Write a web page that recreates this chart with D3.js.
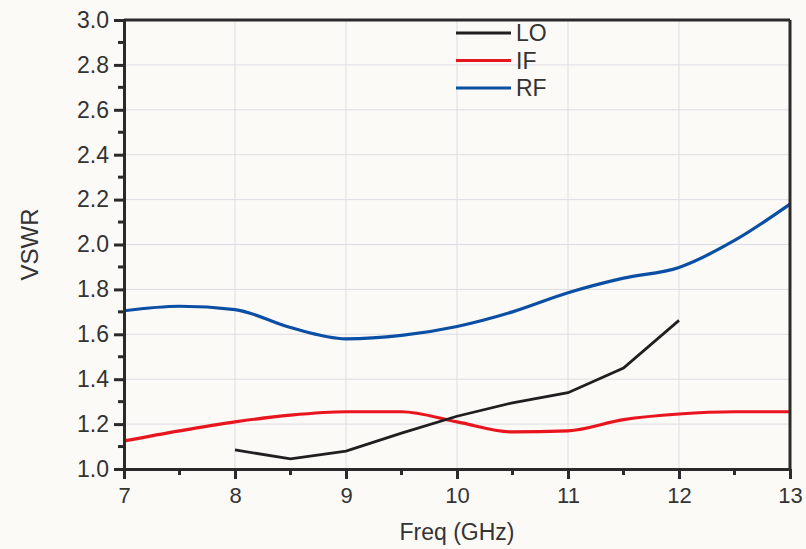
<!DOCTYPE html>
<html>
<head>
<meta charset="utf-8">
<script src="https://cdn.jsdelivr.net/npm/d3@7"></script>
<style>
  body { margin: 0; background: #fcfaf7; }
  svg { display: block; font-family: "Liberation Sans", Arial, sans-serif; }
  .chart-axis text { fill: #333; }
  .chart-axis path, .chart-axis line { stroke: #2a2a2a; }
</style>
</head>
<body>
<div id="chartContainer"></div>
<script>
var freq = [7, 7.5, 8, 8.5, 9, 9.5, 10, 10.5, 11, 11.5, 12, 12.5, 13];
var loFreq = [8, 8.5, 9, 9.5, 10, 10.5, 11, 11.5, 12];
var loValues = [1.085, 1.045, 1.08, 1.16, 1.235, 1.295, 1.34, 1.45, 1.662];
var ifValues = [1.125, 1.17, 1.21, 1.24, 1.255, 1.255, 1.21, 1.165, 1.17, 1.22, 1.245, 1.255, 1.255];
var rfValues = [1.705, 1.725, 1.71, 1.63, 1.58, 1.595, 1.635, 1.70, 1.785, 1.85, 1.898, 2.018, 2.18];
var xTicks = [7, 8, 9, 10, 11, 12, 13];
var yTicks = [1.0, 1.2, 1.4, 1.6, 1.8, 2.0, 2.2, 2.4, 2.6, 2.8, 3.0];
var legendNames = ["LO", "IF", "RF"];
var colors = { LO: "#1f1f1f", IF: "#e8141e", RF: "#0a4fa3" };

var margin = { top: 20, left: 124, right: 16, bottom: 80 };
var width = 806 - margin.left - margin.right;
var height = 549 - margin.top - margin.bottom;

var svg = d3.select("#chartContainer")
  .append("svg")
  .attr("width", 806)
  .attr("height", 549);

var g = svg.append("g")
  .attr("transform", "translate(" + margin.left + "," + margin.top + ")");

var xScale = d3.scaleLinear().domain([7, 13]).range([0, width]);
var yScale = d3.scaleLinear().domain([1, 3]).range([height, 0]);

// grid
g.append("g").selectAll("line").data(xTicks.slice(1, -1)).enter().append("line")
  .attr("x1", d => xScale(d)).attr("x2", d => xScale(d))
  .attr("y1", 0).attr("y2", height)
  .attr("stroke", "#dcdde3").attr("stroke-width", 1);
g.append("g").selectAll("line").data(yTicks.slice(1, -1)).enter().append("line")
  .attr("y1", d => yScale(d)).attr("y2", d => yScale(d))
  .attr("x1", 0).attr("x2", width)
  .attr("stroke", "#dcdde3").attr("stroke-width", 1);

// lines
var curved = d3.line()
  .x((d, i) => xScale(freq[i]))
  .y(d => yScale(d))
  .curve(d3.curveMonotoneX);

var straight = d3.line()
  .x((d, i) => xScale(loFreq[i]))
  .y(d => yScale(d));

g.append("path").attr("d", curved(rfValues))
  .attr("fill", "none").attr("stroke", colors.RF).attr("stroke-width", 3.2);
g.append("path").attr("d", curved(ifValues))
  .attr("fill", "none").attr("stroke", colors.IF).attr("stroke-width", 3.2);
g.append("path").attr("d", straight(loValues))
  .attr("fill", "none").attr("stroke", colors.LO).attr("stroke-width", 2.8);

// minor ticks
var xMinor = d3.range(7.5, 13, 1);
var yMinor = d3.range(1.1, 3, 0.2);
g.append("g").selectAll("line").data(xMinor).enter().append("line")
  .attr("x1", d => xScale(d)).attr("x2", d => xScale(d))
  .attr("y1", height).attr("y2", height + 6)
  .attr("stroke", "#2a2a2a").attr("stroke-width", 3);
g.append("g").selectAll("line").data(yMinor).enter().append("line")
  .attr("y1", d => yScale(d)).attr("y2", d => yScale(d))
  .attr("x1", 0).attr("x2", -6)
  .attr("stroke", "#2a2a2a").attr("stroke-width", 3);

// axes
var xAxis = d3.axisBottom(xScale).tickValues(xTicks).tickFormat(d3.format("d"))
  .tickSize(10).tickPadding(6).tickSizeOuter(0);
var yAxis = d3.axisLeft(yScale).tickValues(yTicks).tickFormat(d3.format(".1f"))
  .tickSize(10).tickPadding(5).tickSizeOuter(0);

var xg = g.append("g").attr("class", "chart-axis")
  .attr("transform", "translate(0," + height + ")")
  .call(xAxis);
xg.attr("font-size", null);
xg.selectAll("line").attr("stroke-width", 3);
xg.select(".domain").attr("stroke-width", 3);
xg.selectAll("text").attr("dy", "0.82em").style("font-size", "22px");

var yg = g.append("g").attr("class", "chart-axis")
  .call(yAxis);
yg.attr("font-size", null);
yg.selectAll("line").attr("stroke-width", 3);
yg.select(".domain").attr("stroke-width", 3);
yg.selectAll("text").style("font-size", "23px");

// frame top and right
g.append("line").attr("x1", 0).attr("x2", width).attr("y1", 0).attr("y2", 0)
  .attr("stroke", "#2a2a2a").attr("stroke-width", 3);
g.append("line").attr("x1", width).attr("x2", width).attr("y1", 0).attr("y2", height)
  .attr("stroke", "#2a2a2a").attr("stroke-width", 3);

// axis labels
svg.append("text")
  .attr("x", margin.left + xScale(10))
  .attr("y", 540)
  .attr("text-anchor", "middle")
  .style("font-size", "23px").attr("fill", "#333")
  .text("Freq (GHz)");

svg.append("text")
  .attr("transform", "translate(38," + (margin.top + yScale(2)) + ") rotate(-90)")
  .attr("text-anchor", "middle")
  .style("font-size", "24px").attr("fill", "#333")
  .text("VSWR");

// legend
var legend = svg.append("g").selectAll("g").data(legendNames).enter().append("g")
  .attr("transform", (d, i) => "translate(456," + (33 + i * 27.5) + ")");
legend.append("line").attr("x1", 0).attr("x2", 55)
  .attr("stroke", d => colors[d]).attr("stroke-width", 3.2);
legend.append("text").attr("x", 60).attr("dy", "0.36em")
  .style("font-size", "23px").attr("fill", "#333")
  .text(d => d);
</script>
</body>
</html>
